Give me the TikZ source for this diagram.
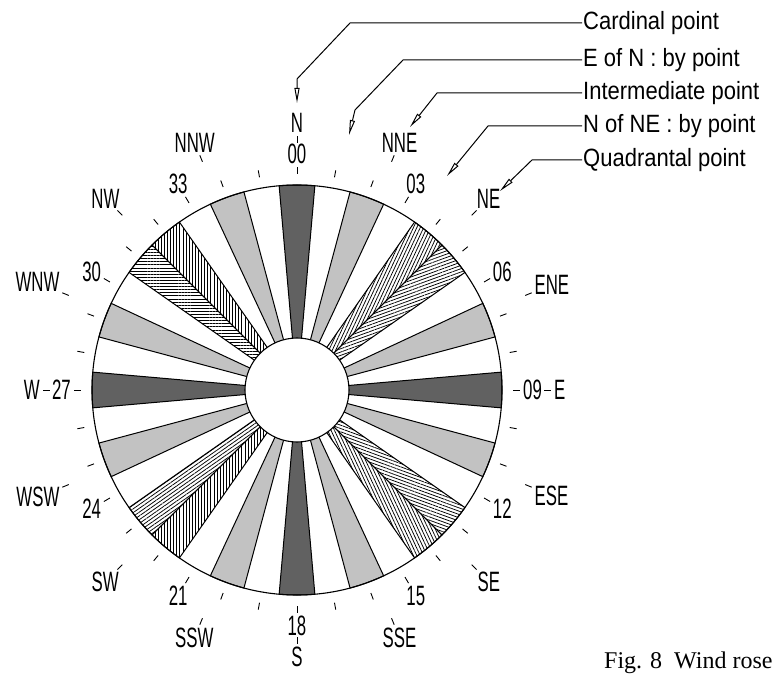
\documentclass[tikz,border=0pt]{standalone}
\usepackage{fontspec}
\usetikzlibrary{arrows.meta,patterns.meta}
\newfontfamily\lblfont[FakeStretch=0.6]{Liberation Sans}
\newfontfamily\legfont[FakeStretch=0.88]{Liberation Sans}
\newfontfamily\capfont{Liberation Serif}
\begin{document}
\begin{tikzpicture}[x=1pt,y=1pt,
  darkband/.style={fill=black!62, draw=black, line width=1pt},
  lightband/.style={fill=black!24, draw=black, line width=1pt},
  hatchband/.style={pattern={Lines[angle=#1,distance=3.1pt,line width=0.75pt]}, draw=black, line width=1pt},
  tickmark/.style={line width=0.9pt},
  rlbl/.style={font=\lblfont\fontsize{28}{28}\selectfont, inner sep=0pt},
  leg/.style={font=\legfont\fontsize{25}{25}\selectfont, inner sep=1pt, anchor=west},
  pointer/.style={line width=1pt, -{Triangle[open,length=15pt,width=5pt]}},
]
\useasboundingbox (-297,-284) rectangle (481,390);
\clip (-297,-284) rectangle (481,390);

% bands (10 degree sectors)
\foreach \b in {0,90,180,270}
  \draw[darkband] (0,0) -- ({95-\b}:205) arc[start angle={95-\b}, end angle={85-\b}, radius=205] -- cycle;
\foreach \b in {20,70,110,160,200,250,290,340}
  \draw[lightband] (0,0) -- ({95-\b}:205) arc[start angle={95-\b}, end angle={85-\b}, radius=205] -- cycle;
\foreach \b/\h in {40/65,50/20,130/160,140/115,220/90,230/35,310/0,320/90}
  \draw[hatchband=\h] (0,0) -- ({95-\b}:205) arc[start angle={95-\b}, end angle={85-\b}, radius=205] -- cycle;

% rims
\node[draw, circle, line width=1.1pt, minimum size=410pt, inner sep=0pt] (rose) at (0,0) {};
\node[draw, circle, fill=white, line width=1.1pt, minimum size=104pt, inner sep=0pt] (hub) at (0,0) {};

% ticks every 10 degrees
\foreach \k in {0,...,35}
  \draw[tickmark] ({90-10*\k}:216) -- ({90-10*\k}:223);
% ticks for the 16 points
\foreach \j in {0,...,15}
  \draw[tickmark] ({90-22.5*\j}:247) -- ({90-22.5*\j}:254);

% number labels
\foreach \b/\t in {0/00,30/03,60/06,90/09,120/12,150/15,180/18,210/21,240/24,270/27,300/30,330/33}{
  \pgfmathsetmacro{\an}{mod(630-\b,360)}
  \node[rlbl, anchor=\an] (num\b) at ({90-\b}:226) {\t};
}
% point labels
\foreach \i/\b/\t in {0/0/N,1/22.5/NNE,2/45/NE,3/67.5/ENE,4/90/E,5/112.5/ESE,6/135/SE,7/157.5/SSE,8/180/S,9/202.5/SSW,10/225/SW,11/247.5/WSW,12/270/W,13/292.5/WNW,14/315/NW,15/337.5/NNW}{
  \pgfmathsetmacro{\an}{mod(630-\b,360)}
  \node[rlbl, anchor=\an] (pt\i) at ({90-\b}:257) {\t};
}

% legend
\node[leg] (lcard) at (285,367) {Cardinal point};
\node[leg] (lbyn) at (285,330) {E of N : by point};
\node[leg] (linter) at (285,297) {Intermediate point};
\node[leg] (lbyne) at (285,264) {N of NE : by point};
\node[leg] (lquad) at (285,230) {Quadrantal point};

\coordinate (tcard) at (0,287);
\coordinate (tbyn) at (52,255);
\coordinate (tinter) at (113,263);
\coordinate (tbyne) at (150,214);
\coordinate (tquad) at (203,199);

\draw[pointer] (lcard.west) -- (53,367) -- (0,311) -- (tcard);
\draw[pointer] (lbyn.west) -- (106,330) -- (58,280) -- (tbyn);
\draw[pointer] (linter.west) -- (140,297) -- (tinter);
\draw[pointer] (lbyne.west) -- (191,264) -- (tbyne);
\draw[pointer] (lquad.west) -- (235,230) -- (tquad);

% caption
\node[anchor=base west, inner sep=0pt, font=\capfont\fontsize{24}{24}\selectfont] (caption) at (307,-278) {Fig. 8\enspace Wind rose};
\end{tikzpicture}
\end{document}
